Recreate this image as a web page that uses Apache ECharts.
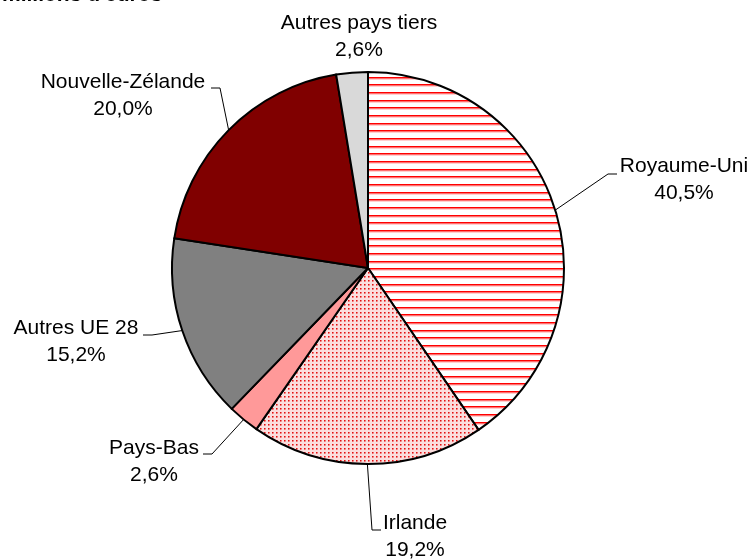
<!DOCTYPE html>
<html>
<head>
<meta charset="utf-8">
<script src="https://cdn.jsdelivr.net/npm/echarts@6/dist/echarts.min.js"></script>
<style>
  html, body { margin: 0; padding: 0; background: #fff; }
  #main { width: 754px; height: 559px; }
</style>
</head>
<body>
<div id="main"></div>
<script>
// données (en % du total, millions d'euros)
var pays = ["Royaume-Uni", "Irlande", "Pays-Bas", "Autres UE 28", "Nouvelle-Zélande", "Autres pays tiers"];
var parts = [40.5, 19.2, 2.6, 15.2, 20.0, 2.6];
var unite = "millions d'euros";

// motif rayé horizontal (Royaume-Uni)
function stripes() {
  var c = document.createElement("canvas");
  c.width = 8; c.height = 23;
  var g = c.getContext("2d");
  g.fillStyle = "#ffffff"; g.fillRect(0, 0, 8, 23);
  [0, 8, 15].forEach(function (y) {
    g.fillStyle = "#ff0000"; g.fillRect(0, y, 8, 1);
    g.fillStyle = "#ff7070"; g.fillRect(0, y + 1, 8, 1);
    g.fillStyle = "#ffd0d0"; g.fillRect(0, y + 2, 8, 1);
  });
  return c;
}
// motif pointillé (Irlande)
function dots() {
  var c = document.createElement("canvas");
  c.width = 4; c.height = 4;
  var g = c.getContext("2d");
  g.fillStyle = "#fbdede"; g.fillRect(0, 0, 4, 4);
  g.fillStyle = "#ef6a6a"; g.fillRect(1, 0, 1, 1); g.fillRect(0, 1, 1, 1);
  g.fillStyle = "#f4a0a0"; g.fillRect(1, 1, 1, 1);
  g.fillStyle = "#e01010"; g.fillRect(0, 0, 1, 1);
  return c;
}

var couleurs = [
  { image: stripes(), repeat: "repeat" },
  { image: dots(), repeat: "repeat" },
  "#ff9999", "#808080", "#800000", "#d9d9d9"
];

// placement des étiquettes : centre du bloc + coude / bout du trait de rappel
var etiq = [
  { x: 684, y: 180, line: [[608, 174], [617, 174]] },
  { x: 415, y: 537, line: [[372, 530], [381, 530]] },
  { x: 154, y: 462, line: [[212, 454], [203, 454]] },
  { x: 76,  y: 342, line: [[152, 335], [143, 335]] },
  { x: 123, y: 96,  line: [[220, 88], [211, 88]] },
  { x: 359, y: 37,  line: null }
];

var data = pays.map(function (p, i) {
  return { name: p, value: parts[i], itemStyle: { color: couleurs[i] } };
});

var chart = echarts.init(document.getElementById("main"));
chart.setOption({
  backgroundColor: "#ffffff",
  animation: false,
  graphic: [{
    type: "text",
    left: 2,
    top: -15,
    style: { text: unite, font: "bold 21px Arial, 'Liberation Sans'", fill: "#000" }
  }],
  series: [{
    type: "pie",
    center: [368, 268],
    radius: 196,
    startAngle: 90,
    clockwise: true,
    data: data,
    itemStyle: { borderColor: "#000", borderWidth: 2 },
    emphasis: { disabled: true },
    label: {
      show: true,
      position: "outside",
      fontFamily: "Arial, 'Liberation Sans'",
      fontSize: 21,
      lineHeight: 27,
      color: "#000",
      align: "center",
      formatter: function (p) {
        return p.name + "\n" + p.value.toFixed(1).replace(".", ",") + "%";
      }
    },
    labelLine: { show: true, length: 10, length2: 10, lineStyle: { color: "#000", width: 1 } },
    labelLayout: function (p) {
      var e = etiq[p.dataIndex];
      var pts = p.labelLinePoints;
      var out = { x: e.x, y: e.y, align: "center", verticalAlign: "middle" };
      if (e.line && pts) {
        out.labelLinePoints = [pts[0], e.line[0], e.line[1]];
      } else {
        out.labelLinePoints = [[0, 0], [0, 0], [0, 0]];
      }
      return out;
    }
  }]
});
</script>
</body>
</html>
